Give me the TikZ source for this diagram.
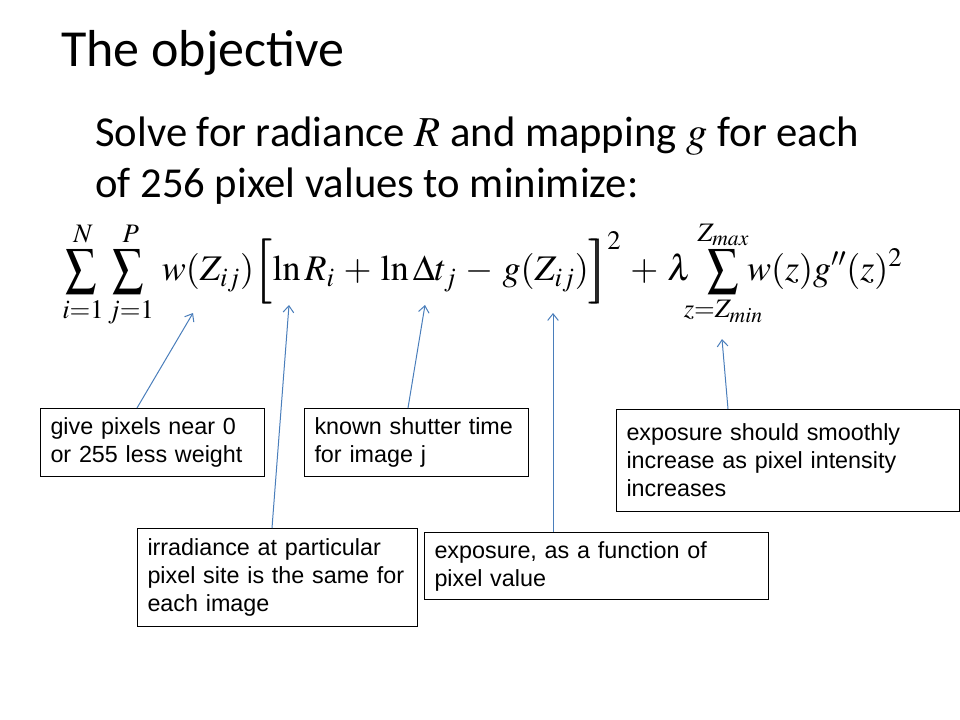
\documentclass[tikz,border=0pt]{standalone}
\usepackage{mathptmx}
\usepackage[no-math]{fontspec}
\usepackage{graphicx}
\setmainfont{Carlito}
\newfontfamily\arialf{Liberation Sans}
\usetikzlibrary{arrows.meta}
\definecolor{connc}{HTML}{4A7EBB}
\newcommand\thkbrL{\mathopen{\rlap{$\displaystyle\Big[$}\kern1.3pt\Big[}}
\newcommand\thkbrR{\mathclose{\rlap{$\displaystyle\Big]$}\kern1.3pt\Big]}}
\newcommand\nsum{\mathop{\scalebox{0.85}[1]{$\displaystyle\sum$}}\limits}
\newcommand\limclap[1]{\makebox[0pt]{$\scriptstyle #1$}}
\begin{document}
\begin{tikzpicture}[x=0.75pt,y=-0.75pt,
  box/.style={draw=black,line width=0.75pt,anchor=north west,inner xsep=7.5pt,inner ysep=0pt,align=left,font=\arialf\fontsize{17.5}{21}\selectfont},
  pointer/.style={draw=connc,line width=0.75pt,-{Straight Barb[length=5pt,width=8pt]}},
  txt/.style={anchor=base west,inner sep=0pt}]
\useasboundingbox (0,0) rectangle (960,720);
\node[txt,font=\fontsize{39}{46}\selectfont] (title) at (61,67) {The objective};
\node[txt,font=\fontsize{32}{38}\selectfont] (l1) at (95,147) {Solve for radiance $R$ and mapping $g$ for each};
\node[txt,font=\fontsize{32}{38}\selectfont] (l2) at (95,198) {of 256 pixel values to minimize:};
\node[txt,font=\fontsize{31}{38}\selectfont] (eq) at (62,281) {\resizebox{630pt}{!}{\medmuskip=4.5mu\thickmuskip=4mu$\displaystyle \nsum_{i=1}^{N}\nsum_{j=1}^{P}\mkern2mu w(Z_{ij})\thkbrL\ln R_{i} + \ln \Delta t_{j} - g(Z_{ij})\thkbrR^{2} + \lambda\mkern6mu\nsum_{\limclap{z=Z_{min}}}^{\limclap{Z_{max}}}\mkern2mu w(z)g''(z)^{2}$}};
\node[box,text width=153pt,minimum height=51pt] (b1) at (40,408) {\mbox{give pixels near 0}\\\mbox{or 255 less weight}};
\node[box,text width=153pt,minimum height=51pt] (b2) at (304,408) {\mbox{known shutter time}\\\mbox{for image j}};
\node[box,text width=195pt,minimum height=73.5pt] (b3) at (137,528) {\mbox{irradiance at particular}\\\mbox{pixel site is the same for}\\\mbox{each image}};
\node[box,text width=243pt,minimum height=50.25pt] (b4) at (424,532) {\mbox{exposure, as a function of}\\\mbox{pixel value}};
\node[box,text width=242pt,minimum height=76.5pt] (b5) at (616,409) {\mbox{exposure should smoothly}\\\mbox{increase as pixel intensity}\\\mbox{increases}};
\coordinate (t1) at (193,313);
\coordinate (t2) at (289,305);
\coordinate (t3) at (425,305);
\coordinate (t4) at (553,313);
\coordinate (t5) at (722,339);
\draw[pointer] (b1.north west) ++(97,0) -- (t1);
\draw[pointer] (b3.north west) ++(135,0) -- (t2);
\draw[pointer] (b2.north west) ++(104,0) -- (t3);
\draw[pointer] (b4.north west) ++(129,0) -- (t4);
\draw[pointer] (b5.north west) ++(112,0) -- (t5);
\end{tikzpicture}
\end{document}
